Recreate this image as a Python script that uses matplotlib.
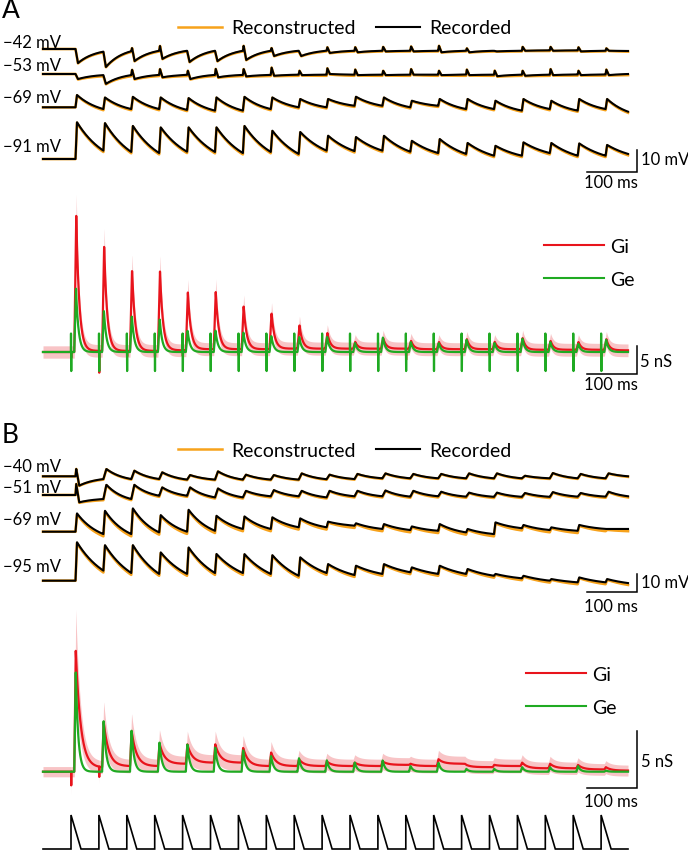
import numpy as np
import matplotlib
matplotlib.use("Agg")
import matplotlib.pyplot as plt
from matplotlib.lines import Line2D

W, H, DPI = 688, 853, 100
plt.rcParams['font.family'] = ['Lato', 'DejaVu Sans']

# ------------------------------------------------------------------ data
N_PULSES = 20
FIRST_STIM_MS = 56.0
STIM_INTERVAL_MS = 55.8
T_END_MS = 1170.0
STIM_AMP = 1.0
STIM_RAMP_MS = 20.0
nan = np.nan

# Panel A: membrane potential deflections (mV, relative to holding level)
A_labels = ['\u221242 mV', '\u221253 mV', '\u221269 mV', '\u221291 mV']
A42_blip = [nan, nan, 0.5, 1.5, nan, nan, 1.5, 0.5, nan, 0.8, 0.8, 1.0, 1.2, 1.5, 0.3, nan, 1.0, 1.0, 0.8, 0.3]
A42_peak = [-6.4, -8.2, -5.5, -4.5, -5.9, -5.5, -5.0, -3.2, -3.2, -1.8, -1.5, -1.1, -1.1, -1.5, -1.5, -1.1, -0.8, -0.8, -1.1, -0.8]
A42_rest = [-1.2, -1.0, -0.8, -0.8, -0.8, -0.8, -0.8, -0.8, -0.8, -0.8, -0.8, -0.8, -0.8, -0.8, -0.8, -0.8, -0.6, -0.6, -0.8, -0.9]
A53_blip = [nan, nan, 2.0, 2.3, 1.5, 2.3, 2.3, 3.0, 1.5, 2.6, 2.0, 1.5, 2.3, 1.5, 2.0, 1.5, 1.5, 2.3, 1.5, 2.0]
A53_peak = [-2.3, -4.5, -2.3, -1.5, -2.3, -1.5, -1.1, -0.8, -0.5, 0.0, -0.5, -0.5, -0.3, -0.5, -0.5, -1.0, -0.8, -0.5, -0.5, -0.5]
A53_rest = [-0.5, -0.5, -0.4, -0.4, -0.4, -0.4, -0.4, -0.3, -0.3, -0.3, -0.3, -0.3, -0.3, -0.3, -0.3, -0.3, -0.3, -0.2, -0.2, 0.0]
A69_peak = [5.6, 4.5, 4.8, 4.5, 4.2, 4.5, 4.8, 4.5, 3.8, 3.8, 4.8, 4.5, 3.0, 3.8, 3.8, 3.0, 3.8, 3.0, 3.8, 3.8]
A69_rest = [-0.8, -0.8, -0.8, -1.2, -1.5, -1.5, -0.8, 0.0, 0.0, 0.7, 0.7, 0.0, 0.7, -0.8, -0.8, -1.5, -0.8, -1.5, -0.8, -2.0]
A91_peak = [16.7, 16.4, 15.1, 14.4, 14.4, 14.4, 15.1, 12.9, 12.3, 10.6, 10.0, 10.6, 8.3, 9.1, 7.3, 6.0, 7.6, 7.3, 7.1, 6.4]
A91_rest = [3.8, 3.2, 2.7, 3.3, 3.2, 2.7, 3.2, 2.3, 3.8, 3.6, 3.8, 3.3, 2.7, 2.3, 1.5, 1.5, 2.7, 1.5, 1.5, 2.3]
A_recon_offset = [-0.3, -0.5, -0.5, -0.6]

# Panel A: conductances (nS)
A_gi_peak = [24.3, 19.0, 14.8, 14.6, 10.7, 10.7, 8.2, 7.0, 4.8, 3.4, 1.8, 2.5, 2.0, 1.8, 2.3, 1.8, 2.5, 2.0, 1.8, 2.3]
A_gi_rest = [0.2, 0.2, 0.2, 0.3, 0.5, 0.5, 0.5, 0.6, 0.6, 0.6, 0.6, 0.6, 0.5, 0.5, 0.5, 0.5, 0.4, 0.4, 0.4, 0.3]
A_gi_artifact = [-1.0, -3.9, -1.0, -1.0, -1.0, -1.0, -1.0, -1.0, -1.0, -2.5, -1.0, -1.0, -2.0, -1.0, -1.0, -1.0, -1.0, -1.0, -1.0, -1.0]
A_ge_peak = [11.3, 7.4, 6.5, 5.9, 3.8, 3.8, 3.5, 2.9, 2.7, 2.7, 1.6, 2.6, 1.8, 1.6, 2.2, 1.6, 2.4, 1.8, 1.5, 2.2]
A_ge_rest = [0.0] * N_PULSES
A_ge_artifact_up = [3.3] * N_PULSES
A_ge_artifact_down = [-3.4] * N_PULSES

# Panel B: membrane potential deflections (mV)
B_labels = ['\u221240 mV', '\u221251 mV', '\u221269 mV', '\u221295 mV']
B40_blip = [4.0] + [nan] * 19
B40_peak = [-5.1, 4.0, 3.1, 2.2, 0.7, 2.7, 0.9, 0.7, 1.6, 0.9, 1.3, 1.6, 1.3, 1.3, 1.6, 1.6, 0.3, 1.8, 1.3, 1.6]
B40_rest = [-1.5, -1.5, -1.5, -1.8, -1.8, -1.8, -1.8, -1.8, -1.6, -1.5, -1.1, -1.1, -1.1, -1.1, -1.1, -1.1, -1.1, -1.1, -1.1, 0.0]
B51_blip = [6.0] + [nan] * 19
B51_peak = [-4.0, 5.6, 5.6, 4.2, 4.2, 3.6, 2.3, 2.7, 2.3, 2.3, 2.3, 2.5, 2.3, 1.8, 1.3, 1.3, 1.1, 1.6, 1.1, 1.8]
B51_rest = [-2.2, -2.2, -0.4, -0.4, -1.3, -1.3, -0.7, -0.7, -1.3, -0.7, -0.7, -0.9, -0.7, -0.9, -1.0, -1.0, -1.0, -0.9, -0.9, -0.7]
B69_peak = [10.0, 11.5, 12.8, 9.1, 12.0, 8.7, 8.4, 7.9, 7.3, 5.5, 4.6, 4.2, 2.9, 4.2, 1.5, 5.1, 3.7, 2.4, 3.7, 1.5]
B69_rest = [-1.3, -1.3, -0.4, 0.0, 0.5, 1.5, 1.5, 2.4, 2.4, 3.3, 1.5, 0.9, 0.5, -0.4, -1.3, 1.9, 0.9, 0.5, 1.5, 1.5]
B95_peak = [21.0, 19.5, 19.5, 15.5, 18.2, 14.6, 14.6, 14.0, 12.8, 9.1, 8.2, 9.1, 7.3, 8.2, 6.4, 3.7, 2.7, 0.9, 1.8, 0.9]
B95_rest = [5.5, 4.2, 3.7, 3.7, 4.2, 4.2, 3.7, 2.7, 4.2, 3.1, 3.7, 4.6, 3.7, 3.7, 2.7, 1.3, 0.0, -0.9, -0.9, -1.3]
B_recon_offset = [-0.3, -0.6, -1.2, -1.0]

# Panel B: conductances (nS)
B_gi_peak = [10.6, 4.4, 3.6, 2.5, 2.4, 2.4, 2.1, 1.7, 1.1, 0.9, 0.8, 0.9, 0.7, 1.1, 0.6, 0.6, 0.8, 0.7, 0.6, 0.4]
B_gi_rest = [0.4, 0.5, 0.5, 0.7, 0.8, 0.8, 0.5, 0.5, 0.5, 0.5, 0.5, 0.6, 0.5, 0.7, 0.4, 0.5, 0.3, 0.3, 0.2, 0.1]
B_gi_artifact = [-1.2, -0.9] + [0.0] * 18
B_ge_peak = [8.7, 4.5, 3.7, 2.6, 2.4, 2.1, 1.9, 1.4, 1.2, 1.0, 0.8, 1.0, 0.5, 0.8, 0.25, 0.25, 0.4, 0.4, 0.5, 0.1]
B_ge_rest = [0.0] * N_PULSES

# ------------------------------------------------------------------ helpers
DT = 0.25
t = np.arange(0.0, T_END_MS + DT / 2, DT)
stim = FIRST_STIM_MS + STIM_INTERVAL_MS * np.arange(N_PULSES)


def build(onsets, peak, rest, tau, rise, blip=None, blip_dt=1.5):
    y = np.zeros_like(t)
    v0 = 0.0
    n = len(onsets)
    for k in range(n):
        on = onsets[k]
        nxt = onsets[k + 1] if k + 1 < n else t[-1] + DT
        seg = (t >= on) & (t < nxt)
        ts = t[seg] - on
        b = blip[k] if blip is not None else nan
        if np.isfinite(b):
            t2 = blip_dt + rise
            xp, fp = [0, blip_dt, t2], [v0, b, peak[k]]
        else:
            t2 = rise
            xp, fp = [0, t2], [v0, peak[k]]
        vals = np.empty_like(ts)
        m = ts <= t2
        vals[m] = np.interp(ts[m], xp, fp)
        S = (nxt - on) - t2
        s = ts[~m] - t2
        w = (np.exp(-s / tau) - np.exp(-S / tau)) / (1 - np.exp(-S / tau))
        vals[~m] = rest[k] + (peak[k] - rest[k]) * w
        y[seg] = vals
        v0 = rest[k]
    return y


def add_artifact(y, times, vals, shift=0):
    y = y.copy()
    for s, v in zip(times, vals):
        i = np.searchsorted(t, s) + shift
        y[i] += v
    return y


fig = plt.figure(figsize=(W / DPI, H / DPI), dpi=DPI)


def layer(ppu):
    """Full-figure transparent axes; ppu = pixels per data unit on y."""
    ax = fig.add_axes([0, 0, 1, 1])
    ax.set_xlim(-2 * 43, 2 * (W - 43))
    ax.set_ylim(-H / ppu, 0)
    ax.axis('off')
    ax.patch.set_alpha(0)
    return ax


def ftext(x, y, s, size=12, ha='left', va='center', **kw):
    fig.text(x / W, 1 - y / H, s, fontsize=size, ha=ha, va=va, **kw)


ORANGE = '#F7A21B'
RED = '#E8141C'
GREEN = '#1FAA22'
PINK = '#F8C4C6'

V_DELAY, V_RISE = 9.0, 3.0
G_DELAY = 6.5

# ------------------------------------------------------------------ voltage blocks
def volt_block(ppu, base_px, specs, offsets, labels, label_px, bar_px):
    ax = layer(ppu)
    on = stim + V_DELAY
    for (blip, pk, rs, tau, rise), off, b in zip(specs, offsets, base_px):
        pk_o = [p + 0.4 * off for p in pk]
        rs_o = [r + off for r in rs]
        rec = build(on, pk, rs, tau, rise, blip)
        con = build(on, pk_o, rs_o, tau, rise, blip)
        ax.plot(t, -b / ppu + con, color=ORANGE, lw=1.9, solid_joinstyle='round')
        ax.plot(t, -b / ppu + rec, color='black', lw=1.5, solid_joinstyle='round')
    for lab, ly in zip(labels, label_px):
        ftext(3, ly, lab, size=12)
    bx, by = bar_px
    tx = 2 * (bx - 43)
    ax.plot([tx - 100, tx, tx], [-by / ppu, -by / ppu, -by / ppu + 10],
            color='black', lw=1.1, solid_joinstyle='miter')
    return ax


A_specs = [(A42_blip, A42_peak, A42_rest, 35.0, 5.0),
           (A53_blip, A53_peak, A53_rest, 35.0, 5.0),
           (None, A69_peak, A69_rest, 45.0, V_RISE),
           (None, A91_peak, A91_rest, 60.0, V_RISE)]
volt_block(2.2, [50, 75, 108.3, 160], A_specs, A_recon_offset, A_labels,
           [42.7, 66, 98, 147], (636.5, 173.3))
ftext(641, 160, '10 mV')
ftext(611, 183.5, '100 ms', ha='center')

B_specs = [(B40_blip, B40_peak, B40_rest, 35.0, 6.0),
           (B51_blip, B51_peak, B51_rest, 35.0, 6.0),
           (None, B69_peak, B69_rest, 45.0, V_RISE),
           (None, B95_peak, B95_rest, 60.0, V_RISE)]
volt_block(1.83, [477.3, 496, 532.7, 581.7], B_specs, B_recon_offset, B_labels,
           [466.7, 488.3, 520, 566.7], (636.5, 593.3))
ftext(641, 583.3, '10 mV')
ftext(611, 606.7, '100 ms', ha='center')

# ------------------------------------------------------------------ conductance blocks
def cond_block(ppu, base_px, gi, ge, band, bar_px):
    ax = layer(ppu)
    y0 = -base_px / ppu
    lo, hi = band
    gi_band = lo + hi * np.abs(gi)
    ax.fill_between(t, y0 + gi - gi_band, y0 + gi + gi_band, color=PINK, lw=0)
    ax.plot(t, y0 + gi, color=RED, lw=1.6)
    ax.plot(t, y0 + ge, color=GREEN, lw=1.6)
    bx, by = bar_px
    tx = 2 * (bx - 43)
    ax.plot([tx - 100, tx, tx], [-by / ppu, -by / ppu, -by / ppu + 5],
            color='black', lw=1.1, solid_joinstyle='miter')
    return ax


gon = stim + G_DELAY
A_gi = build(gon, A_gi_peak, A_gi_rest, 6.0, 4.0)
A_gi = add_artifact(A_gi, stim, A_gi_artifact, shift=2)
A_ge = build(gon, A_ge_peak, A_ge_rest, 5.0, 3.5)
A_ge = add_artifact(A_ge, stim, A_ge_artifact_up, shift=0)
A_ge = add_artifact(A_ge, stim, A_ge_artifact_down, shift=2)
cond_block(5.6, 353, A_gi, A_ge, (1.1, 0.115), (636.5, 375))
ftext(640, 361.7, '5 nS')
ftext(611, 385, '100 ms', ha='center')

B_gi = build(gon, B_gi_peak, B_gi_rest, 10.0, 3.0)
B_gi = add_artifact(B_gi, stim, B_gi_artifact, shift=2)
B_ge = build(gon, B_ge_peak, B_ge_rest, 5.0, 3.0)
cond_block(11.4, 772.7, B_gi, B_ge, (0.45, 0.3), (636.5, 789))
ftext(641, 761.7, '5 nS')
ftext(611, 801.7, '100 ms', ha='center')

# ------------------------------------------------------------------ stimulus
axs = layer(34.0)
sx = [t[0]]
sy = [0.0]
for s in stim:
    sx += [s, s, s + STIM_RAMP_MS]
    sy += [0.0, STIM_AMP, 0.0]
sx.append(t[-1])
sy.append(0.0)
axs.plot(sx, -850 / 34.0 + np.array(sy), color='black', lw=1.2, solid_joinstyle='miter')

# ------------------------------------------------------------------ legends and panel letters
ftext(2, 11, 'A', size=19)
ftext(2, 436, 'B', size=19)

for ly in (29, 451.7):
    h = [Line2D([], [], color=ORANGE, lw=1.8), Line2D([], [], color='black', lw=1.5)]
    fig.legend(h, ['Reconstructed', 'Recorded'], loc='center left',
               bbox_to_anchor=(178 / W, 1 - ly / H), ncol=2, frameon=False,
               fontsize=14, handlelength=2.26, handletextpad=0.5,
               columnspacing=1.0, borderpad=0, borderaxespad=0)

for lx, ly in ((544, 264), (526, 692)):
    h = [Line2D([], [], color=RED, lw=1.5), Line2D([], [], color=GREEN, lw=1.5)]
    fig.legend(h, ['Gi', 'Ge'], loc='center left',
               bbox_to_anchor=(lx / W, 1 - ly / H), ncol=1, frameon=False,
               fontsize=14, handlelength=3.1, handletextpad=0.3,
               labelspacing=0.8, borderpad=0, borderaxespad=0)

fig.savefig('out.png', dpi=DPI)
